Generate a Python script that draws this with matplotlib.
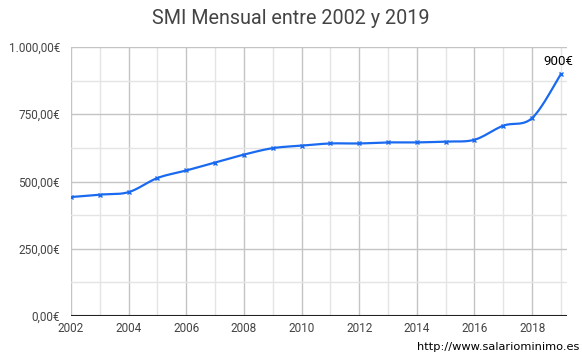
import numpy as np
import matplotlib
matplotlib.use("Agg")
import matplotlib.pyplot as plt
from matplotlib.ticker import FuncFormatter, MultipleLocator

years = [2002, 2003, 2004, 2005, 2006, 2007, 2008, 2009, 2010,
         2011, 2012, 2013, 2014, 2015, 2016, 2017, 2018, 2019]
smi = [442.20, 451.20, 460.50, 513.00, 540.90, 570.60, 600.00, 624.00, 633.30,
       641.40, 641.40, 645.30, 645.30, 648.60, 655.20, 707.60, 735.90, 900.00]

plt.rcParams["font.family"] = ["Roboto", "DejaVu Sans"]


def smooth(x, y, n=20, t=0.5):
    # cardinal spline through the points (like the "function" curve type)
    x = np.asarray(x, float)
    y = np.asarray(y, float)
    xp = np.concatenate([[x[0]], x, [x[-1]]])
    yp = np.concatenate([[y[0]], y, [y[-1]]])
    xs, ys = [], []
    for i in range(1, len(xp) - 2):
        p0, p1, p2, p3 = yp[i - 1], yp[i], yp[i + 1], yp[i + 2]
        q0, q1, q2, q3 = xp[i - 1], xp[i], xp[i + 1], xp[i + 2]
        s = np.linspace(0, 1, n, endpoint=False)
        h00 = 2 * s**3 - 3 * s**2 + 1
        h10 = s**3 - 2 * s**2 + s
        h01 = -2 * s**3 + 3 * s**2
        h11 = s**3 - s**2
        m1y, m2y = t * (p2 - p0), t * (p3 - p1)
        m1x, m2x = t * (q2 - q0), t * (q3 - q1)
        ys.append(h00 * p1 + h10 * m1y + h01 * p2 + h11 * m2y)
        xs.append(h00 * q1 + h10 * m1x + h01 * q2 + h11 * m2x)
    xs.append([x[-1]])
    ys.append([y[-1]])
    return np.concatenate(xs), np.concatenate(ys)


fig = plt.figure(figsize=(5.82, 3.56), dpi=100)
ax = fig.add_axes([71 / 582, 1 - 316 / 356, (567 - 71) / 582, (316 - 47) / 356])

blue = "#1a6af0"
sx, sy = smooth(years, smi)
ax.plot(sx, sy, color=blue, lw=1.6, zorder=3)
ax.plot(years, smi, ls="none", marker="x", ms=3.5, mew=1.0, color=blue, zorder=4)

ax.annotate("900€", xy=(years[-1], smi[-1]), xytext=(-2, 4),
            textcoords="offset points", ha="center", va="bottom",
            fontsize=9.5, color="black")

ax.set_xlim(2002, 2019.21)
ax.set_ylim(0, 1000)
ax.xaxis.set_major_locator(MultipleLocator(2))
ax.xaxis.set_minor_locator(MultipleLocator(1))
ax.yaxis.set_major_locator(MultipleLocator(250))
ax.yaxis.set_minor_locator(MultipleLocator(125))


def euro(v, pos):
    s = f"{v:,.2f}".replace(",", "X").replace(".", ",").replace("X", ".")
    return s + "€"


ax.yaxis.set_major_formatter(FuncFormatter(euro))
ax.grid(True, which="major", color="#c4c4c4", lw=1)
ax.grid(True, which="minor", color="#e4e4e4", lw=1)
ax.set_axisbelow(True)
ax.tick_params(which="both", length=0, labelsize=8.5, colors="#444444")
ax.tick_params(axis="x", pad=4)
ax.tick_params(axis="y", pad=8)
for sp in ax.spines.values():
    sp.set_visible(False)
ax.axhline(0, color="#222222", lw=1.5, zorder=2)

fig.suptitle("SMI Mensual entre 2002 y 2019", y=0.975, fontsize=14.2, color="#444444")
fig.text(0.995, 0.01, "http://www.salariominimo.es", ha="right", va="bottom",
         fontsize=8.2, color="black", family="DejaVu Sans")

fig.savefig("out.png", dpi=100)
